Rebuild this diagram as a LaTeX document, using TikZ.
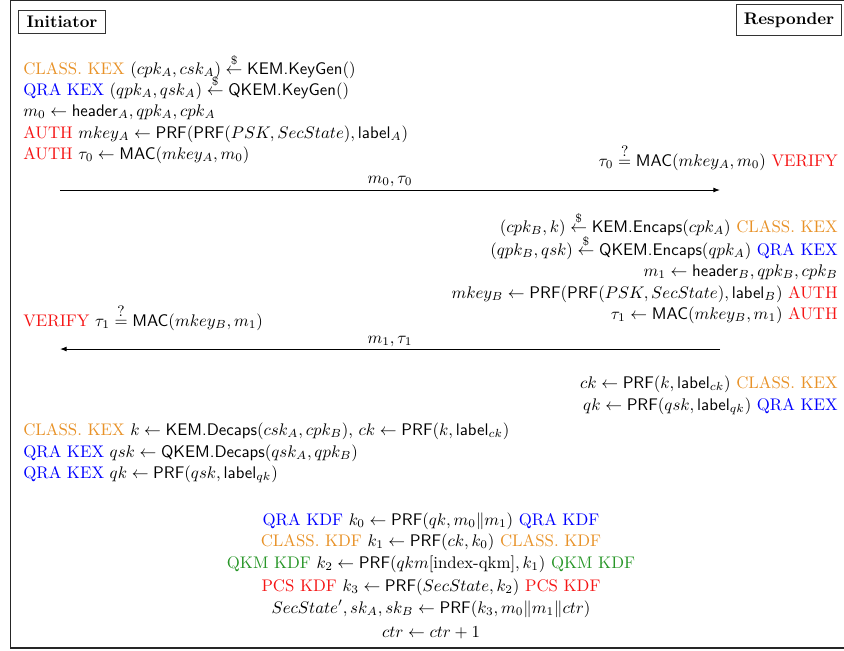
\documentclass[tikz,border=0pt]{standalone}
\usepackage{amsmath}
\usetikzlibrary{arrows.meta}
\definecolor{classorange}{RGB}{232,146,40}
\definecolor{qragreen}{RGB}{40,150,40}
\definecolor{authred}{RGB}{245,20,20}
\newcommand{\CK}{\textcolor{classorange}{CLASS. KEX}}
\newcommand{\QK}{\textcolor{blue}{QRA KEX}}
\newcommand{\AU}{\textcolor{authred}{AUTH}}
\newcommand{\VE}{\textcolor{authred}{VERIFY}}
\newcommand{\sfn}[1]{\textsf{#1}}
\newcommand{\qeq}{\overset{\text{\small ?}}{=}}
\begin{document}
\begin{tikzpicture}[x=0.595pt,y=-0.595pt,
  txt/.style={inner sep=0pt},
  lefttxt/.style={txt,anchor=base west},
  righttxt/.style={txt,anchor=base east},
  midtxt/.style={txt,anchor=base},
  partybox/.style={draw=black!80,line width=0.6pt,font=\bfseries,inner sep=0pt},
  msg/.style={line width=0.6pt,-{Latex[length=4pt,width=3pt]}}]
\useasboundingbox (0,0) rectangle (844,650);
% frame
\draw[line width=0.7pt,black!85] (850,0.6) -- (10.3,0.6) -- (10.3,648) -- (850,648);
% parties
\node[partybox,anchor=north west,minimum width=51.8pt,minimum height=13.7pt] (ini) at (18,10) {Initiator};
\node[partybox,anchor=north east,minimum width=62.5pt,minimum height=18.4pt] (res) at (842,4) {Responder};
% initiator first block
\node[lefttxt] (a1) at (23,74) {\CK{} $(cpk_A, csk_A) \stackrel{\$}{\leftarrow} \sfn{KEM.KeyGen}()$};
\node[lefttxt] (a2) at (23,95) {\QK{} $(qpk_A, qsk_A) \stackrel{\$}{\leftarrow} \sfn{QKEM.KeyGen}()$};
\node[lefttxt] (a3) at (23,116) {$m_0 \leftarrow \sfn{header}_A, qpk_A, cpk_A$};
\node[lefttxt] (a4) at (23,138) {\AU{} $mkey_A \leftarrow \sfn{PRF}(\sfn{PRF}(PSK, SecState), \sfn{label}_A)$};
\node[lefttxt] (a5) at (23,159) {\AU{} $\tau_0 \leftarrow \sfn{MAC}(mkey_A, m_0)$};
\node[righttxt] (v0) at (838,166) {$\tau_0 \qeq \sfn{MAC}(mkey_A, m_0)$ \VE};
% message 1
\coordinate (m0s) at (60,190);
\coordinate (m0e) at (720,190);
\draw[msg] (m0s) -- (m0e);
\node[midtxt] (l0) at (390,183) {$m_0, \tau_0$};
% responder block
\node[righttxt] (b1) at (838,232) {$(cpk_B, k) \stackrel{\$}{\leftarrow} \sfn{KEM.Encaps}(cpk_A)$ \CK};
\node[righttxt] (b2) at (838,255) {$(qpk_B, qsk) \stackrel{\$}{\leftarrow} \sfn{QKEM.Encaps}(qpk_A)$ \QK};
\node[righttxt] (b3) at (838,276) {$m_1 \leftarrow \sfn{header}_B, qpk_B, cpk_B$};
\node[righttxt] (b4) at (838,298) {$mkey_B \leftarrow \sfn{PRF}(\sfn{PRF}(PSK, SecState), \sfn{label}_B)$ \AU};
\node[righttxt] (b5) at (838,319) {$\tau_1 \leftarrow \sfn{MAC}(mkey_B, m_1)$ \AU};
\node[lefttxt] (v1) at (23,326) {\VE{} $\tau_1 \qeq \sfn{MAC}(mkey_B, m_1)$};
% message 2
\coordinate (m1s) at (720,349);
\coordinate (m1e) at (60,349);
\draw[msg] (m1s) -- (m1e);
\node[midtxt] (l1) at (390,343) {$m_1, \tau_1$};
% responder derivations
\node[righttxt] (c1) at (838,388) {$ck \leftarrow \sfn{PRF}(k, \sfn{label}_{ck})$ \CK};
\node[righttxt] (c2) at (838,410) {$qk \leftarrow \sfn{PRF}(qsk, \sfn{label}_{qk})$ \QK};
% initiator derivations
\node[lefttxt] (d1) at (23,435) {\CK{} $k \leftarrow \sfn{KEM.Decaps}(csk_A, cpk_B)$, $ck \leftarrow \sfn{PRF}(k, \sfn{label}_{ck})$};
\node[lefttxt] (d2) at (23,457) {\QK{} $qsk \leftarrow \sfn{QKEM.Decaps}(qsk_A, qpk_B)$};
\node[lefttxt] (d3) at (23,478) {\QK{} $qk \leftarrow \sfn{PRF}(qsk, \sfn{label}_{qk})$};
% key derivation
\node[midtxt] (e1) at (431,525) {\textcolor{blue}{QRA KDF} $k_0 \leftarrow \sfn{PRF}(qk, m_0 \| m_1)$ \textcolor{blue}{QRA KDF}};
\node[midtxt] (e2) at (431,546) {\textcolor{classorange}{CLASS. KDF} $k_1 \leftarrow \sfn{PRF}(ck, k_0)$ \textcolor{classorange}{CLASS. KDF}};
\node[midtxt] (e3) at (431,568) {\textcolor{qragreen}{QKM KDF} $k_2 \leftarrow \sfn{PRF}(qkm[\text{index-qkm}], k_1)$ \textcolor{qragreen}{QKM KDF}};
\node[midtxt] (e4) at (431,591) {\textcolor{authred}{PCS KDF} $k_3 \leftarrow \sfn{PRF}(SecState, k_2)$ \textcolor{authred}{PCS KDF}};
\node[midtxt] (e5) at (431,613) {$SecState', sk_A, sk_B \leftarrow \sfn{PRF}(k_3, m_0 \| m_1 \| ctr)$};
\node[midtxt] (e6) at (431,637) {$ctr \leftarrow ctr + 1$};
\end{tikzpicture}
\end{document}
